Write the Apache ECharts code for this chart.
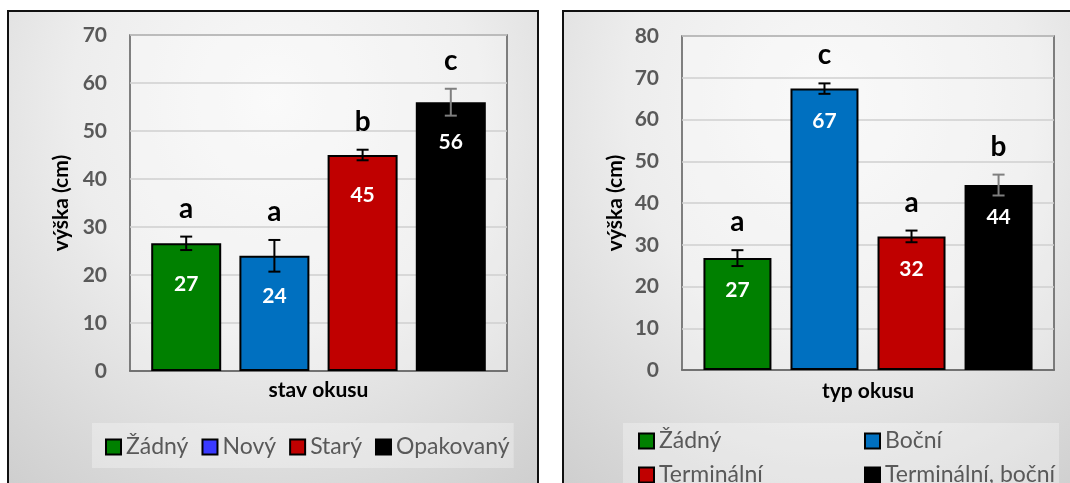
<!DOCTYPE html>
<html>
<head>
<meta charset="utf-8">
<title>výška podle okusu</title>
<script src="https://cdn.jsdelivr.net/npm/echarts@6/dist/echarts.min.js"></script>
<style>
  html, body { margin: 0; padding: 0; background: #ffffff; overflow: hidden; }
  .panel {
    position: absolute; top: 10px; height: 490px; box-sizing: border-box;
    border: 2px solid #111; border-bottom: none;
    background: radial-gradient(ellipse 95% 115% at 50% 18%, #f8f8f8 0%, #ededed 40%, #d6d6d6 75%, #c6c6c6 100%);
  }
  #p1 { left: 7px; width: 532px; }
  #p2 { left: 562px; width: 530px; }
  #chart { position: absolute; left: 0; top: 0; width: 1070px; height: 483px; }
</style>
</head>
<body>
<div class="panel" id="p1"></div>
<div class="panel" id="p2"></div>
<div id="chart"></div>
<script>
// stav okusu (left panel)
const namesLeft = ['Žádný', 'Nový', 'Starý', 'Opakovaný'];
const valuesLeft = [26.6, 24.0, 45, 56];
const errorsLeft = [1.4, 3.3, 1.1, 2.8];
const lettersLeft = ['a', 'a', 'b', 'c'];

// typ okusu (right panel)
const namesRight = ['Žádný', 'Boční', 'Terminální', 'Terminální, boční'];
const valuesRight = [26.8, 67.4, 32.0, 44.3];
const errorsRight = [1.9, 1.25, 1.4, 2.5];
const lettersRight = ['a', 'c', 'a', 'b'];

const yMaxLeft = 70;
const yMaxRight = 80;
const yStep = 10;

const barColors = ['#008000', '#0070c0', '#c00000', '#000000'];
const legendColorsLeft = ['#008000', '#3a3aff', '#c00000', '#000000'];
const errColors = ['#000000', '#000000', '#000000', '#7f7f7f'];

const FONT = 'Lato, "Open Sans", sans-serif';

function barSeries(names, values, gridIdx, barWidth, barGap, labelDist) {
  return names.map((n, i) => ({
    type: 'bar',
    name: n,
    xAxisIndex: gridIdx,
    yAxisIndex: gridIdx,
    barWidth: barWidth,
    barGap: barGap,
    data: [values[i]],
    itemStyle: { color: barColors[i], borderColor: '#000', borderWidth: 2 },
    label: {
      show: true,
      position: 'insideTop',
      distance: labelDist,
      formatter: p => String(Math.round(p.value)),
      color: '#ffffff',
      fontFamily: FONT,
      fontWeight: 'bold',
      fontSize: 21
    },
    emphasis: { disabled: true },
    z: 2
  }));
}

// error bars with significance letters, aligned to the grouped bars
function errorSeries(values, errors, letters, gridIdx, barWidth, barGap) {
  return {
    type: 'custom',
    xAxisIndex: gridIdx,
    yAxisIndex: gridIdx,
    data: values.map((v, i) => [0, v, errors[i], i]),
    z: 5,
    silent: true,
    renderItem: function (params, api) {
      const i = api.value(3);
      const v = api.value(1);
      const e = api.value(2);
      const layout = api.barLayout({ count: values.length, barWidth: barWidth, barGap: barGap });
      const hi = api.coord([0, v + e]);
      const lo = api.coord([0, v - e]);
      const x = hi[0] + layout[i].offsetCenter;
      const cap = 6;
      const st = { stroke: errColors[i], lineWidth: 2 };
      return {
        type: 'group',
        children: [
          { type: 'line', shape: { x1: x, y1: hi[1], x2: x, y2: lo[1] }, style: st },
          { type: 'line', shape: { x1: x - cap, y1: hi[1], x2: x + cap, y2: hi[1] }, style: st },
          { type: 'line', shape: { x1: x - cap, y1: lo[1], x2: x + cap, y2: lo[1] }, style: st },
          {
            type: 'text',
            style: {
              text: letters[i], x: x, y: hi[1] - 14,
              align: 'center', verticalAlign: 'bottom',
              font: 'bold 28px ' + FONT, fill: '#000000'
            }
          }
        ]
      };
    }
  };
}

function yAxis(gridIdx, max, gap) {
  return {
    type: 'value', gridIndex: gridIdx, min: 0, max: max, interval: yStep,
    name: 'výška (cm)', nameLocation: 'middle', nameRotate: 90, nameGap: gap,
    nameTextStyle: { color: '#000', fontFamily: FONT, fontWeight: 'bold', fontSize: 21 },
    axisLine: { show: false }, axisTick: { show: false },
    axisLabel: { color: '#595959', fontFamily: FONT, fontWeight: 'bold', fontSize: 21, margin: 23 },
    splitLine: { lineStyle: { color: '#cfcfcf', width: 1.5 } }
  };
}

function xAxis(gridIdx, title, gap) {
  return {
    type: 'category', gridIndex: gridIdx, data: [''],
    name: title, nameLocation: 'middle', nameGap: gap,
    nameTextStyle: { color: '#000', fontFamily: FONT, fontWeight: 'bold', fontSize: 21 },
    axisLine: { lineStyle: { color: '#595959', width: 1.5 } },
    axisTick: { show: false }, axisLabel: { show: false }
  };
}

const legendText = { color: '#595959', fontFamily: FONT, fontSize: 23, lineHeight: 24 };

const option = {
  animation: false,
  grid: [
    { left: 130, top: 35, width: 377, height: 336, show: true, borderColor: '#595959', borderWidth: 1.5, backgroundColor: 'rgba(255,255,255,0.25)' },
    { left: 682, top: 36, width: 372, height: 334, show: true, borderColor: '#595959', borderWidth: 1.5, backgroundColor: 'rgba(255,255,255,0.25)' }
  ],
  xAxis: [xAxis(0, 'stav okusu', 9), xAxis(1, 'typ okusu', 11)],
  yAxis: [yAxis(0, yMaxLeft, 58), yAxis(1, yMaxRight, 56)],
  legend: [
    {
      data: namesLeft.map((n, i) => ({ name: n, icon: 'rect', itemStyle: { color: legendColorsLeft[i] } })),
      left: 92, top: 423, orient: 'horizontal',
      padding: [12, 4, 9, 13], itemGap: 13, itemWidth: 15, itemHeight: 15,
      backgroundColor: 'rgba(255,255,255,0.3)',
      textStyle: legendText, selectedMode: false
    },
    {
      data: namesRight.map((n, i) => ({ name: n, icon: 'rect', textStyle: { width: i % 2 === 0 ? 195 : 172 } })),
      left: 623, top: 423, width: 430, orient: 'horizontal',
      padding: [6, 2, 30, 15], itemGap: 10, itemWidth: 15, itemHeight: 15,
      backgroundColor: 'rgba(255,255,255,0.3)',
      textStyle: legendText, selectedMode: false
    }
  ],
  series: [
    ...barSeries(namesLeft, valuesLeft, 0, 70, '26%', 30),
    errorSeries(valuesLeft, errorsLeft, lettersLeft, 0, 70, '26%'),
    ...barSeries(namesRight, valuesRight, 1, 68, '28%', 22),
    errorSeries(valuesRight, errorsRight, lettersRight, 1, 68, '28%')
  ]
};

const chart = echarts.init(document.getElementById('chart'), null, { renderer: 'canvas' });
chart.setOption(option);
</script>
</body>
</html>
